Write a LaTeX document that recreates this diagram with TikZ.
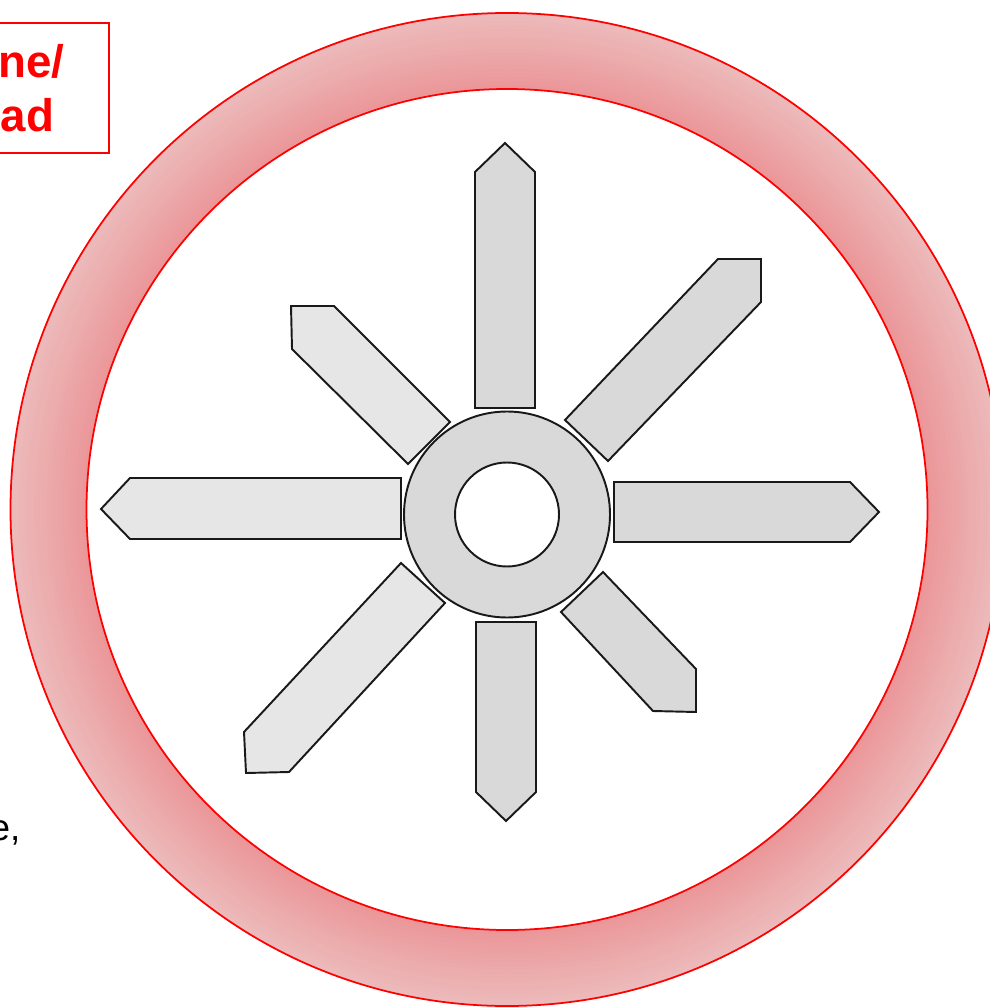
\documentclass[tikz,border=0pt]{standalone}
\usepackage{fontspec}
\newfontfamily\labelfont{Liberation Sans}

\definecolor{ringin}{HTML}{EB9698}
\definecolor{ringout}{HTML}{ECBBBB}
\definecolor{vanedark}{HTML}{D9D9D9}
\definecolor{vanelight}{HTML}{E6E6E6}

\begin{document}
\begin{tikzpicture}[x=0.1mm, y=-0.1mm,
    vane/.style={draw=black!90, line width=0.55pt, line join=miter},
    ringline/.style={draw=red, line width=0.5pt}]
    \useasboundingbox (0,0) rectangle (990,1007);

    \coordinate (ctr) at (507,509.5);
    \coordinate (hub) at (507,514.5);

    % red ring, shaded from the inside out
    \foreach \i in {0,...,18} {
        \pgfmathsetmacro\r{496.5-4*\i}
        \pgfmathtruncatemacro\p{100*(\i+0.5)/19}
        \fill[ringin!\p!ringout] (ctr) circle (\r);
    }
    \fill[white] (ctr) circle (420.5);
    \draw[ringline] (ctr) circle (496.5);
    \draw[ringline] (ctr) circle (420.5);

    % vanes
    \draw[vane, fill=vanedark] (475,408) -- (475,172) -- (505,143) -- (535,172) -- (535,408) -- cycle;
    \draw[vane, fill=vanedark] (565,420) -- (718,259) -- (761,259) -- (761,302) -- (608,461) -- cycle;
    \draw[vane, fill=vanedark] (614,482) -- (850,482) -- (879,512) -- (850,542) -- (614,542) -- cycle;
    \draw[vane, fill=vanedark] (603,572) -- (696,669) -- (696,712) -- (653,711) -- (561,612) -- cycle;
    \draw[vane, fill=vanedark] (476,622) -- (536,622) -- (536,792) -- (506,821) -- (476,792) -- cycle;
    \draw[vane, fill=vanelight] (401,563) -- (445,603) -- (289,772) -- (246,773) -- (244,732) -- cycle;
    \draw[vane, fill=vanelight] (401,478) -- (401,539) -- (130,539) -- (101,509) -- (130,478) -- cycle;
    \draw[vane, fill=vanelight] (291,306) -- (334,306) -- (450,422) -- (408,464) -- (292,349) -- cycle;

    % hub
    \draw[vane, fill=vanedark] (hub) circle (103);
    \draw[vane, fill=white] (hub) circle (52);

    % label box, cut by the left edge
    \draw[red, line width=0.6pt] (-40,23) rectangle (109,153);
    \node[anchor=base east, inner sep=0, text=red, font=\labelfont\bfseries\fontsize{13}{15}\selectfont]
        (headtop) at (65,78) {ne/};
    \node[anchor=base east, inner sep=0, text=red, font=\labelfont\bfseries\fontsize{13}{15}\selectfont]
        (headbot) at (55,132) {ad};

    \node[anchor=base east, inner sep=0, font=\labelfont\fontsize{10.5}{12}\selectfont]
        (note) at (21,840) {e,};
\end{tikzpicture}
\end{document}
